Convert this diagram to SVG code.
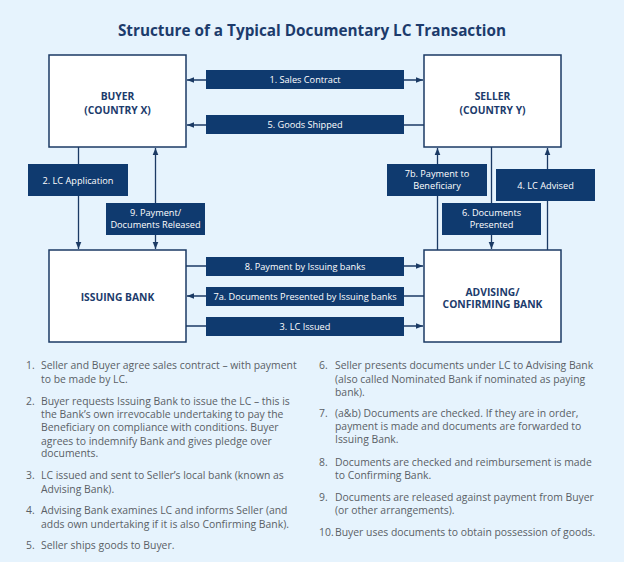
<svg xmlns="http://www.w3.org/2000/svg" width="624" height="562" viewBox="0 0 624 562">
<style>
.bg{fill:#e6f3fd}
.title{font-family:"Open Sans","Liberation Sans",sans-serif;font-weight:700;font-size:15.3px;fill:#1c3b6c}
.node rect{fill:#ffffff;stroke:#1b3a64;stroke-width:1.5}
.nt{font-family:"Open Sans","Liberation Sans",sans-serif;font-weight:700;font-size:10.3px;fill:#1c3b6c;text-anchor:middle}
.bar{fill:#0f3a6f}
.bt{font-family:"Open Sans","Liberation Sans",sans-serif;font-size:9.2px;fill:#ffffff;text-anchor:middle}
.ln{stroke:#1b3a64;stroke-width:1.3;fill:none}
.lt{font-family:"Open Sans","Liberation Sans",sans-serif;font-size:10.4px;fill:#5a5f66}
</style>
<defs>
<marker id="ah" viewBox="0 0 10 10" refX="10" refY="5" markerWidth="7" markerHeight="7" markerUnits="userSpaceOnUse" orient="auto-start-reverse">
<path d="M0,1 L10,5 L0,9 z" fill="#1b3a64"/>
</marker>
</defs>
<rect class="bg" x="0" y="0" width="624" height="562"/>
<text class="title" x="312" y="36" text-anchor="middle">Structure of a Typical Documentary LC Transaction</text>

<g id="connectors">
<line class="ln" x1="187" y1="80" x2="423" y2="80" marker-start="url(#ah)" marker-end="url(#ah)"/>
<line class="ln" x1="424" y1="125" x2="187" y2="125" marker-end="url(#ah)"/>
<line class="ln" x1="186" y1="266" x2="423" y2="266" marker-end="url(#ah)"/>
<line class="ln" x1="424" y1="296" x2="187" y2="296" marker-end="url(#ah)"/>
<line class="ln" x1="186" y1="326" x2="423" y2="326" marker-end="url(#ah)"/>
<line class="ln" x1="78.5" y1="147" x2="78.5" y2="249" marker-end="url(#ah)"/>
<line class="ln" x1="155.5" y1="148" x2="155.5" y2="249" marker-start="url(#ah)" marker-end="url(#ah)"/>
<line class="ln" x1="437.5" y1="250" x2="437.5" y2="148" marker-end="url(#ah)"/>
<line class="ln" x1="491.5" y1="147" x2="491.5" y2="249" marker-end="url(#ah)"/>
<line class="ln" x1="547.5" y1="250" x2="547.5" y2="148" marker-end="url(#ah)"/>

<g id="lbl-1"><rect class="bar" x="206" y="70" width="198" height="19"/><text class="bt" x="305" y="83">1. Sales Contract</text></g>
<g id="lbl-5"><rect class="bar" x="206" y="115" width="198" height="19"/><text class="bt" x="305" y="128">5. Goods Shipped</text></g>
<g id="lbl-8"><rect class="bar" x="206" y="257" width="198" height="19"/><text class="bt" x="305" y="270">8. Payment by Issuing banks</text></g>
<g id="lbl-7a"><rect class="bar" x="206" y="287" width="198" height="19"/><text class="bt" x="305" y="300">7a. Documents Presented by Issuing banks</text></g>
<g id="lbl-3"><rect class="bar" x="206" y="317" width="198" height="19"/><text class="bt" x="305" y="330">3. LC Issued</text></g>
<g id="lbl-2"><rect class="bar" x="28" y="164" width="100" height="32"/><text class="bt" x="78" y="183.5">2. LC Application</text></g>
<g id="lbl-9"><rect class="bar" x="106" y="203" width="99" height="32"/><text class="bt" x="155.5" y="216">9. Payment/</text><text class="bt" x="155.5" y="227.5">Documents Released</text></g>
<g id="lbl-7b"><rect class="bar" x="387" y="164" width="100" height="32"/><text class="bt" x="437" y="177">7b. Payment to</text><text class="bt" x="437" y="188.5">Beneficiary</text></g>
<g id="lbl-6"><rect class="bar" x="442" y="203" width="99" height="32"/><text class="bt" x="491.5" y="216">6. Documents</text><text class="bt" x="491.5" y="227.5">Presented</text></g>
<g id="lbl-4"><rect class="bar" x="496" y="169" width="99" height="32"/><text class="bt" x="545.5" y="188.5">4. LC Advised</text></g>
</g>

<g id="buyer" class="node"><rect x="49" y="55" width="137" height="92"/><text class="nt" x="117.5" y="100">BUYER</text><text class="nt" x="117.5" y="113.5">(COUNTRY X)</text></g>
<g id="seller" class="node"><rect x="424" y="55" width="137" height="92"/><text class="nt" x="492.5" y="100">SELLER</text><text class="nt" x="492.5" y="113.5">(COUNTRY Y)</text></g>
<g id="issuing" class="node"><rect x="49" y="250" width="137" height="92"/><text class="nt" x="117.5" y="301">ISSUING BANK</text></g>
<g id="advising" class="node"><rect x="424" y="250" width="137" height="92"/><text class="nt" x="492.5" y="295.5">ADVISING/</text><text class="nt" x="492.5" y="308">CONFIRMING BANK</text></g>

<g id="notes-left" class="lt">
<text x="26" y="369">1.</text><text x="41" y="369">Seller and Buyer agree sales contract – with payment</text>
<text x="41" y="382.5">to be made by LC.</text>
<text x="26" y="404.5">2.</text><text x="41" y="404.5">Buyer requests Issuing Bank to issue the LC – this is</text>
<text x="41" y="418">the Bank’s own irrevocable undertaking to pay the</text>
<text x="41" y="431">Beneficiary on compliance with conditions. Buyer</text>
<text x="41" y="444.5">agrees to indemnify Bank and gives pledge over</text>
<text x="41" y="457">documents.</text>
<text x="26" y="479">3.</text><text x="41" y="479">LC issued and sent to Seller’s local bank (known as</text>
<text x="41" y="492.5">Advising Bank).</text>
<text x="26" y="514">4.</text><text x="41" y="514">Advising Bank examines LC and informs Seller (and</text>
<text x="41" y="527.5">adds own undertaking if it is also Confirming Bank).</text>
<text x="26" y="549">5.</text><text x="41" y="549">Seller ships goods to Buyer.</text>
</g>
<g id="notes-right" class="lt">
<text x="319" y="369">6.</text><text x="335" y="369">Seller presents documents under LC to Advising Bank</text>
<text x="335" y="382.5">(also called Nominated Bank if nominated as paying</text>
<text x="335" y="395.5">bank).</text>
<text x="319" y="416.5">7.</text><text x="335" y="416.5">(a&amp;b) Documents are checked. If they are in order,</text>
<text x="335" y="430">payment is made and documents are forwarded to</text>
<text x="335" y="443">Issuing Bank.</text>
<text x="319" y="465.5">8.</text><text x="335" y="465.5">Documents are checked and reimbursement is made</text>
<text x="335" y="479">to Confirming Bank.</text>
<text x="319" y="500.5">9.</text><text x="335" y="500.5">Documents are released against payment from Buyer</text>
<text x="335" y="514">(or other arrangements).</text>
<text x="319" y="536">10.</text><text x="335" y="536">Buyer uses documents to obtain possession of goods.</text>
</g>
</svg>
